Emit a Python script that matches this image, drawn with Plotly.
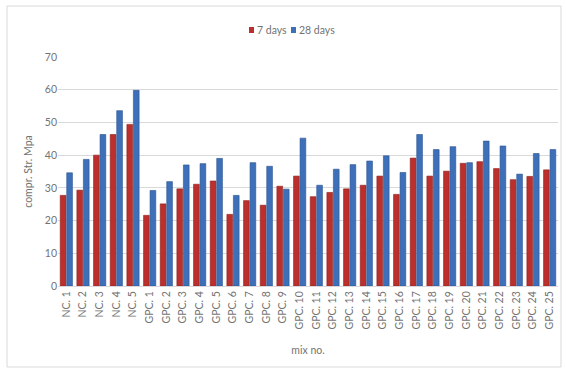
import plotly.graph_objects as go

categories = ["NC. 1", "NC. 2", "NC. 3", "NC. 4", "NC. 5"] + [f"GPC. {i}" for i in range(1, 26)]
days7 = [27.7, 29.3, 40.0, 46.3, 49.4,
         21.6, 25.1, 29.7, 31.1, 32.1, 21.9, 26.1, 24.7, 30.5, 33.6,
         27.3, 28.6, 29.7, 30.8, 33.6, 28.0, 39.1, 33.6, 35.1, 37.5,
         38.0, 35.9, 32.5, 33.5, 35.5]
days28 = [34.6, 38.7, 46.3, 53.6, 59.8,
          29.2, 31.9, 37.0, 37.4, 39.0, 27.7, 37.7, 36.6, 29.6, 45.2,
          30.8, 35.7, 37.1, 38.2, 39.8, 34.7, 46.3, 41.7, 42.6, 37.7,
          44.3, 42.8, 34.2, 40.5, 41.7]
series_names = ["7 days", "28 days"]
series_colors = ["#bb2f2c", "#3d70b8"]
y_ticks = [0, 10, 20, 30, 40, 50, 60, 70]

FONT = "Lato, Roboto, sans-serif"
TXT = "#737373"

W, H = 566, 373
ML, MR, MT, MB = 58, 8, 57, 87
PW, PH = W - ML - MR, H - MT - MB


def px(x):
    return (x - ML) / PW


def py(y):
    return (H - MB - y) / PH


fig = go.Figure()
fig.add_trace(go.Bar(name=series_names[0], x=categories, y=days7,
                     marker=dict(color=series_colors[0], line=dict(color="#8e1f1d", width=0.6))))
fig.add_trace(go.Bar(name=series_names[1], x=categories, y=days28,
                     marker=dict(color=series_colors[1], line=dict(color="#2a5390", width=0.6))))

fig.update_layout(
    width=W, height=H,
    margin=dict(l=ML, r=MR, t=MT, b=MB),
    paper_bgcolor="white", plot_bgcolor="white",
    barmode="group", bargap=0.22, bargroupgap=0.12,
    font=dict(family=FONT, size=10, color=TXT),
    showlegend=False,
)
fig.update_xaxes(tickangle=-90, tickfont=dict(size=10.5, color=TXT), showgrid=False,
                 showline=True, linecolor="#d9d9d9", ticks="",
                 title=dict(text="mix no.", font=dict(size=10.5, color=TXT), standoff=18))
fig.update_yaxes(range=[0, 70], tickvals=y_ticks, showgrid=True, gridcolor="#d9d9d9",
                 gridwidth=1, zeroline=False, tickfont=dict(size=10.5, color=TXT),
                 ticks="", ticklen=0,
                 title=dict(text="compr. Str. Mpa", font=dict(size=10.5, color=TXT), standoff=10))

# outer chart border
fig.add_shape(type="rect", xref="paper", yref="paper", x0=px(7), x1=px(561), y0=py(367), y1=py(6),
              line=dict(color="#d9d9d9", width=1), fillcolor="rgba(0,0,0,0)", layer="below")

# compact legend (top centre)
leg_x = [249, 291]
leg_y = 30
for name, color, x0 in zip(series_names, series_colors, leg_x):
    fig.add_shape(type="rect", xref="paper", yref="paper",
                  x0=px(x0), x1=px(x0 + 5), y0=py(leg_y + 3), y1=py(leg_y - 3),
                  line=dict(width=0), fillcolor=color)
    fig.add_annotation(xref="paper", yref="paper", x=px(x0 + 6), y=py(leg_y),
                       text=name, showarrow=False, xanchor="left", yanchor="middle",
                       font=dict(size=10.5, color=TXT, family=FONT))

fig.write_html("out.html")
